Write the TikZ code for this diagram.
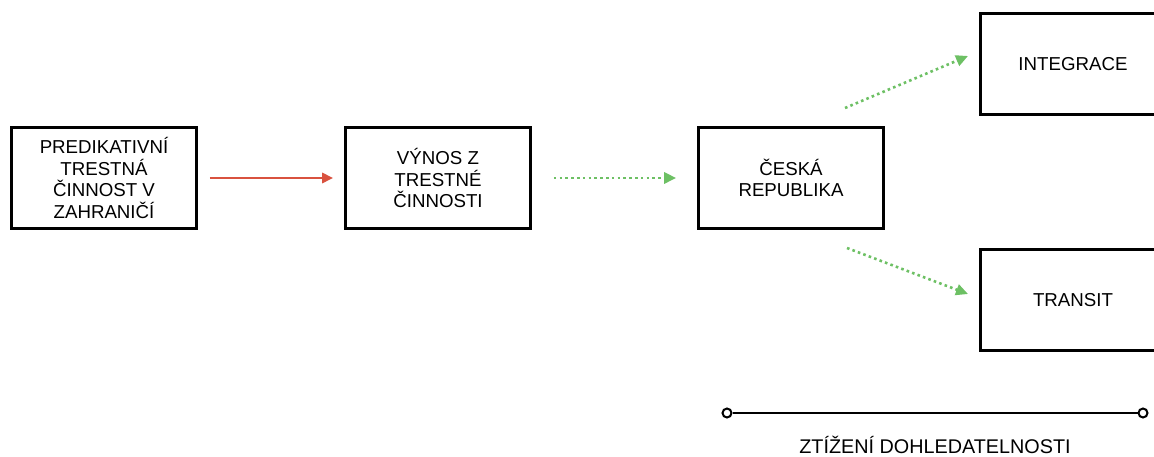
\documentclass[tikz,border=0pt]{standalone}
\usepackage{fontspec}
\setmainfont{Liberation Sans}
\usetikzlibrary{arrows.meta}
\definecolor{redarrow}{HTML}{D9523F}
\definecolor{greenarrow}{HTML}{6DC064}
\tikzset{
  box/.style={draw=black, line width=2.6pt, minimum width=185pt, minimum height=101pt,
    align=center, inner sep=0pt, font=\fontsize{18.7}{21.8}\selectfont},
  redline/.style={draw=redarrow, line width=2.6pt, -{Triangle[length=11pt,width=10pt]}},
  greenline/.style={draw=greenarrow, line width=2.6pt, dash pattern=on 2.6pt off 3.2pt,
    -{Triangle[length=12pt,width=11pt]}},
  endpt/.style={circle, draw=black, fill=white, line width=2pt, minimum size=9pt, inner sep=0pt},
  lbl/.style={font=\fontsize{19.8}{22}\selectfont}
}
\begin{document}
\begin{tikzpicture}[x=1pt,y=-1pt]
\useasboundingbox (0,0) rectangle (1154,457);
\clip (0,0) rectangle (1154,457);
\node[box] (pred) at (104,178) {PREDIKATIVNÍ\\TRESTNÁ\\ČINNOST V\\ZAHRANIČÍ};
\node[box] (vynos) at (438,178) {VÝNOS Z\\TRESTNÉ\\ČINNOSTI};
\node[box] (cr) at (791,178) {ČESKÁ\\REPUBLIKA};
\node[box] (integ) at (1073,64) {INTEGRACE};
\node[box] (trans) at (1073,300) {TRANSIT};
\draw[redline, shorten <=12pt, shorten >=11pt] (pred.east) -- (vynos.west);
\draw[greenline, shorten <=22pt, shorten >=21pt] (vynos.east) -- (cr.west);
\coordinate (up1) at (845,108);
\coordinate (up2) at (968,56);
\coordinate (dn1) at (847,248);
\coordinate (dn2) at (968,294);
\draw[greenline] (up1) -- (up2);
\draw[greenline] (dn1) -- (dn2);
\node[endpt] (l) at (727,413) {};
\node[endpt] (r) at (1143,413) {};
\draw[line width=2.4pt] (l) -- (r);
\node[lbl] (zt) at (935,445) {ZTÍŽENÍ DOHLEDATELNOSTI};
\end{tikzpicture}
\end{document}
